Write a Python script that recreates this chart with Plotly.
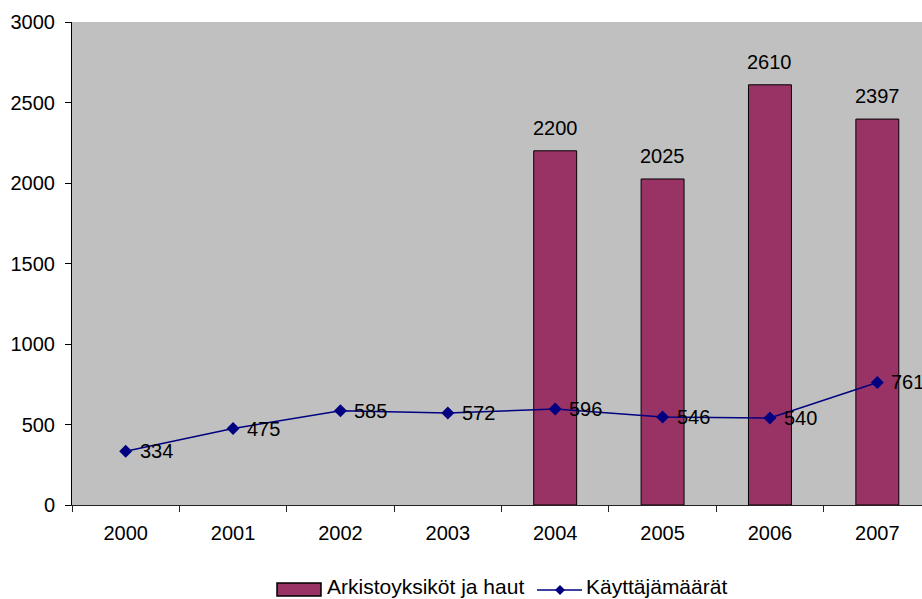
import plotly.graph_objects as go

# Data
years = ["2000", "2001", "2002", "2003", "2004", "2005", "2006", "2007"]
archive_units = [None, None, None, None, 2200, 2025, 2610, 2397]
users = [334, 475, 585, 572, 596, 546, 540, 761]
y_ticks = [0, 500, 1000, 1500, 2000, 2500, 3000]

bar_name = "Arkistoyksiköt ja haut"
line_name = "Käyttäjämäärät"

BAR_COLOR = "#993366"
LINE_COLOR = "#000080"
PLOT_BG = "#C0C0C0"
FONT = "Arial, Liberation Sans, sans-serif"

W, H = 922, 599
M_L, M_R, M_T, M_B = 72, 0, 22, 94
PW, PH = W - M_L - M_R, H - M_T - M_B


def px_x(x):
    """Pixel column -> paper x."""
    return (x - M_L) / PW


def px_y(y):
    """Pixel row -> paper y."""
    return (H - M_B - y) / PH


fig = go.Figure()

fig.add_trace(go.Bar(
    x=years, y=archive_units, name=bar_name, width=0.4,
    marker=dict(color=BAR_COLOR, line=dict(color="black", width=1)),
    showlegend=False,
))

fig.add_trace(go.Scatter(
    x=years, y=users, name=line_name, mode="lines+markers",
    line=dict(color=LINE_COLOR, width=1.5),
    marker=dict(symbol="diamond", size=10, color=LINE_COLOR),
    showlegend=False,
))

label_font = dict(family=FONT, size=20, color="black")

# Value labels above the bars
for i, v in enumerate(archive_units):
    if v is None:
        continue
    fig.add_annotation(
        x=i, y=v, text=str(v), showarrow=False, yanchor="bottom",
        yshift=10, font=label_font,
    )

# Value labels to the right of the line points
for i, v in enumerate(users):
    fig.add_annotation(
        x=i, y=v, text=str(v), showarrow=False, xanchor="left",
        yanchor="middle", xshift=12, font=label_font,
    )

# Legend drawn below the plot
shapes = [
    dict(type="rect", xref="paper", yref="paper",
         x0=px_x(277), x1=px_x(321), y0=px_y(596), y1=px_y(583),
         fillcolor=BAR_COLOR, line=dict(color="black", width=1.5)),
    dict(type="line", xref="paper", yref="paper",
         x0=px_x(537), x1=px_x(582), y0=px_y(590), y1=px_y(590),
         line=dict(color=LINE_COLOR, width=1.5)),
]
cx, cy, r = 560, 590, 5
shapes.append(dict(
    type="path", xref="paper", yref="paper",
    path=(f"M {px_x(cx - r)} {px_y(cy)} L {px_x(cx)} {px_y(cy - r)} "
          f"L {px_x(cx + r)} {px_y(cy)} L {px_x(cx)} {px_y(cy + r)} Z"),
    fillcolor=LINE_COLOR, line=dict(color=LINE_COLOR, width=0),
))
for name, x_left in ((bar_name, 325), (line_name, 584)):
    fig.add_annotation(
        xref="paper", yref="paper", x=px_x(x_left), y=px_y(586),
        xanchor="left", yanchor="middle", text=name, showarrow=False,
        font=dict(family=FONT, size=21, color="black"),
    )

fig.update_layout(
    width=W, height=H,
    margin=dict(l=M_L, r=M_R, t=M_T, b=M_B, pad=0),
    paper_bgcolor="white", plot_bgcolor=PLOT_BG,
    font=dict(family=FONT, size=20, color="black"),
    shapes=shapes, showlegend=False,
)

fig.update_xaxes(
    type="category", range=[-0.5, 7.416],
    showline=True, linecolor="#222222", linewidth=1,
    ticks="outside", tickson="boundaries", ticklen=6, tickcolor="#222222",
    tickfont=dict(family=FONT, size=20), ticklabelstandoff=10,
    showgrid=False, zeroline=False,
)
fig.update_yaxes(
    range=[0, 3000], tickvals=y_ticks,
    showline=True, linecolor="black", linewidth=1,
    ticks="outside", ticklen=6, tickcolor="black",
    tickfont=dict(family=FONT, size=20), ticklabelstandoff=6,
    showgrid=False, zeroline=False,
)

fig.write_html("out.html")
